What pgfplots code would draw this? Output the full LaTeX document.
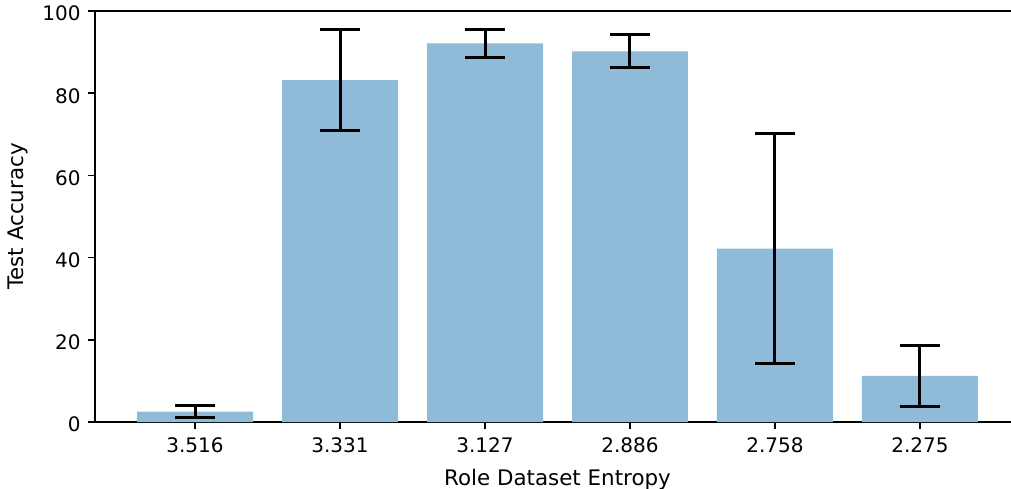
\documentclass[border=0pt]{standalone}
\usepackage{pgfplots}
\pgfplotsset{compat=1.18}
\usepackage{fontspec}
\setmainfont{DejaVu Sans}
\definecolor{barblue}{RGB}{143,187,217}
\begin{document}
\begin{tikzpicture}[x=1pt,y=1pt]
\begin{axis}[
  at={(0,0)}, anchor=south west,
  scale only axis,
  width=462.5pt, height=205.5pt,
  xmin=-0.69, xmax=5.69, ymin=0, ymax=100,
  xtick={0,1,2,3,4,5},
  xticklabels={3.516,3.331,3.127,2.886,2.758,2.275},
  ytick={0,20,40,60,80,100},
  tick align=outside, xtick pos=bottom, ytick pos=left,
  major tick length=3.5pt,
  every tick/.style={black, line width=0.8pt},
  axis line style={line width=0.8pt},
  /pgf/number format/assume math mode=true,
  tick label style={font=\fontsize{10}{12}\selectfont},
  label style={font=\fontsize{10.7}{12.8}\selectfont},
  xticklabel style={inner sep=0pt, yshift=-4.3pt},
  yticklabel style={inner sep=0pt, xshift=-3.5pt, yshift=-1.3pt},
  xlabel={Role Dataset Entropy},
  ylabel={Test Accuracy},
  xlabel style={at={(axis description cs:0.5,-0.155)}, anchor=base},
  ylabel style={at={(axis description cs:-0.0832,0.5)}, anchor=center},
  clip=false,
]
\addplot[ybar, bar width=0.8, fill=barblue, draw=none,
  error bars/.cd, y dir=both, y explicit,
  error bar style={black, line width=1.5pt},
  error mark options={black, line width=1.5pt, mark size=10pt, rotate=90}]
  table[x=x, y=y, y error=e] {
x y e
0 2.5 1.5
1 83.2 12.2
2 92.1 3.35
3 90.2 4.05
4 42.2 28.0
5 11.25 7.45
};
\end{axis}
\pgfresetboundingbox
\path (-47.5pt,-33pt) rectangle (458pt,211pt);
\end{tikzpicture}
\end{document}
